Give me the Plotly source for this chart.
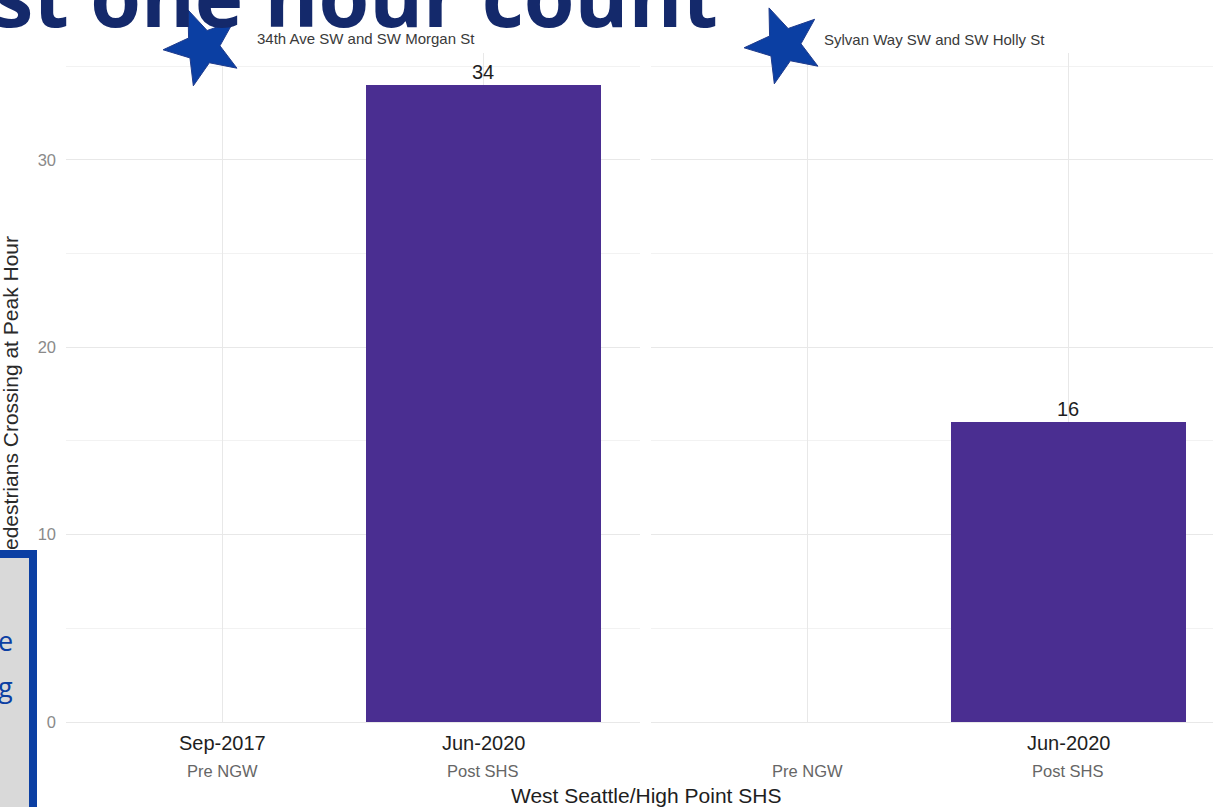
import math
import plotly.graph_objects as go

W, H = 1213, 807

# ---- data -------------------------------------------------------------
sites = ["34th Ave SW and SW Morgan St", "Sylvan Way SW and SW Holly St"]
periods = ["Pre NGW", "Post SHS"]
count_dates_morgan = ["Sep-2017", "Jun-2020"]
count_dates_holly = ["", "Jun-2020"]
peak_counts_morgan = [None, 34]
peak_counts_holly = [None, 16]
y_ticks = [0, 10, 20, 30]
program_label = "West Seattle/High Point SHS"
y_title = "Pedestrians Crossing at Peak Hour"
slide_title = "At least one hour count"

# ---- styling ----------------------------------------------------------
BAR = "#4A2E91"
NAVY = "#14296B"
BLUE = "#0B3FA3"
GRID = "#e8e8e8"
GRID_MINOR = "#f2f2f2"
FONT = "Liberation Sans, Arial, sans-serif"


def fx(px):
    return px / W


def fy(py):
    return 1 - py / H


# panel geometry (pixels)
P1_LEFT, P1_RIGHT = 66, 640
P2_LEFT = 651
TOP, BOTTOM = 53, 722
unit = (P1_RIGHT - P1_LEFT) / 2.2
x1_range = [-0.6, 1.6]
x2_range = [-0.6, -0.6 + (W - P2_LEFT) / unit]
y_range = [0, 35.7]


def star_path(cx, cy, r_out, r_in, start_deg):
    pts = []
    for i in range(10):
        r = r_out if i % 2 == 0 else r_in
        a = math.radians(start_deg - 36 * i)
        pts.append((fx(cx + r * math.cos(a)), fy(cy + r * math.sin(a))))
    d = "M " + " L ".join(f"{x:.5f},{y:.5f}" for x, y in pts) + " Z"
    return d


fig = go.Figure()

panels = [
    ("x", "y", count_dates_morgan, peak_counts_morgan),
    ("x2", "y2", count_dates_holly, peak_counts_holly),
]
for xa, ya, _, counts in panels:
    fig.add_trace(go.Bar(
        x=periods, y=counts, xaxis=xa, yaxis=ya,
        width=0.9, marker=dict(color=BAR, line=dict(width=0)),
        showlegend=False, hoverinfo="skip",
    ))

axis_common = dict(
    showline=False, zeroline=False, ticks="", fixedrange=True,
    showgrid=True, gridcolor=GRID, gridwidth=1.3, automargin=False,
)
yaxis_common = dict(
    axis_common, range=y_range, tickmode="array", tickvals=y_ticks,
    domain=[fy(BOTTOM), fy(TOP)],
    zeroline=True, zerolinecolor=GRID, zerolinewidth=1.3,
    minor=dict(tickmode="linear", tick0=0, dtick=5, showgrid=True,
               gridcolor=GRID_MINOR, gridwidth=1),
)

fig.update_layout(
    width=W, height=H,
    margin=dict(l=0, r=0, t=0, b=0, autoexpand=False),
    paper_bgcolor="white", plot_bgcolor="white",
    font=dict(family=FONT),
    bargap=0,
    xaxis=dict(axis_common, domain=[fx(P1_LEFT), fx(P1_RIGHT)], range=x1_range,
               anchor="y", showticklabels=False,
               categoryorder="array", categoryarray=periods),
    xaxis2=dict(axis_common, domain=[fx(P2_LEFT), 1.0], range=x2_range,
                anchor="y2", showticklabels=False,
                categoryorder="array", categoryarray=periods),
    yaxis=dict(yaxis_common, anchor="x", showticklabels=True,
               tickfont=dict(family=FONT, size=16.5, color="#8a8a8a"),
               ticklabelstandoff=9),
    yaxis2=dict(yaxis_common, anchor="x2", matches="y", showticklabels=False),
)

ann = []

# panel strip labels
strip_pos = [(366, 38), (934, 39)]
for name, (sx, sy) in zip(sites, strip_pos):
    ann.append(dict(text=name, x=fx(sx), y=fy(sy), xref="paper", yref="paper",
                    showarrow=False, xanchor="center", yanchor="middle",
                    font=dict(family=FONT, size=15, color="#3a3a3a")))

for (xa, ya, dates, counts) in panels:
    # value labels on top of the bars
    for period, v in zip(periods, counts):
        if v is not None:
            ann.append(dict(text=str(v), x=period, y=v, xref=xa, yref=ya,
                            showarrow=False, xanchor="center", yanchor="bottom",
                            yshift=0,
                            font=dict(family=FONT, size=20, color="#1e1e1e")))
    # category labels under each panel: count date and period
    for period, date in zip(periods, dates):
        if date:
            ann.append(dict(text=date, x=period, y=fy(743), xref=xa, yref="paper",
                            showarrow=False, xanchor="center", yanchor="middle",
                            font=dict(family=FONT, size=20, color="#1e1e1e")))
        ann.append(dict(text=period, x=period, y=fy(771), xref=xa, yref="paper",
                        showarrow=False, xanchor="center", yanchor="middle",
                        font=dict(family=FONT, size=16.5, color="#666666")))

# shared x title
ann.append(dict(text=program_label, x=fx((P1_LEFT + P2_LEFT + unit * 2.2) / 2),
                y=fy(795), xref="paper", yref="paper", showarrow=False,
                xanchor="center", yanchor="middle",
                font=dict(family=FONT, size=21, color="#1e1e1e")))

# y title
ann.append(dict(text=y_title, x=fx(10), y=fy(400), xref="paper", yref="paper",
                showarrow=False, textangle=-90, xanchor="center", yanchor="middle",
                font=dict(family=FONT, size=21, color="#2a2a2a")))

# slide heading
ann.append(dict(text=slide_title, x=fx(720), y=fy(53), xref="paper", yref="paper",
                showarrow=False, xanchor="right", yanchor="bottom",
                font=dict(family="Open Sans", size=82, color=NAVY, weight=700)))

# side call-out box
ann.append(dict(text=" ", x=fx(37), y=fy(550), xref="paper", yref="paper",
                showarrow=False, xanchor="right", yanchor="top",
                width=120, height=320, bgcolor="#d9d9d9",
                bordercolor=BLUE, borderwidth=8, borderpad=0))
for glyph, gy in (("e", 640), ("g", 686)):
    ann.append(dict(text=glyph, x=fx(15), y=fy(gy), xref="paper", yref="paper",
                    showarrow=False, xanchor="right", yanchor="middle",
                    font=dict(family="Open Sans", size=27, color=BLUE)))

fig.update_layout(annotations=ann)

# star markers beside the strip labels
for cx, cy in ((203, 47), (784, 45)):
    fig.add_shape(type="path", path=star_path(cx, cy, 40, 17, 176),
                  xref="paper", yref="paper", layer="above",
                  fillcolor=BLUE, line=dict(color="#1f3b8c", width=1))

fig.write_html("out.html")
